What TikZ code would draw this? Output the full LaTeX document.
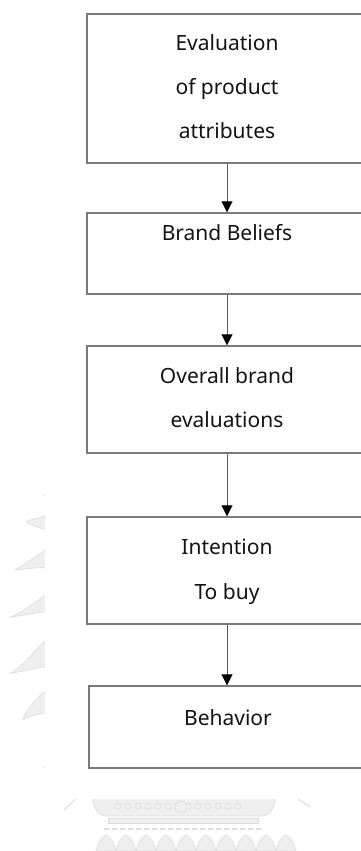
\documentclass[tikz,border=0pt]{standalone}
\usepackage{fontspec}
\setmainfont{Noto Sans}
\usetikzlibrary{arrows.meta}
\definecolor{boxgray}{HTML}{7A7A7A}
\definecolor{sealline}{HTML}{DCDCDC}
\definecolor{sealfill}{HTML}{EFEFEF}
\begin{document}
\begin{tikzpicture}[x=1pt,y=-1pt,
  stage/.style={draw=boxgray, line width=1.4pt, inner sep=0pt, minimum width=280pt},
  caption/.style={anchor=base, font=\fontsize{21}{25}\selectfont, text=black!92, inner sep=0pt},
  flow/.style={draw=black!65, line width=0.9pt, -{Triangle[width=11pt,length=11pt,color=black]}},
  seal/.style={draw=sealline, fill=sealfill, line width=0.6pt},
  sealstroke/.style={draw=sealline, line width=1pt}]
\useasboundingbox (0,0) rectangle (361,851);

% faint seal in the background
\foreach \tx/\ty/\ra/\rb in {28/523/513/530, 15/570/547/568, 10/617/592/612, 10/673/637/667, 23/720/687/713}{
  \path[seal] (50,\ra) .. controls (38,\ra+8) and (22,\ty-4) .. (\tx,\ty)
    .. controls (25,\ty-1) and (38,\rb-1) .. (50,\rb) -- cycle;
}
\path[seal] (45,495) circle (1.2);
\path[seal] (45,767) circle (1.2);
\draw[sealstroke] (64,810) -- (76,799);
\draw[sealstroke] (298,799) -- (310,807);
\path[seal] (92,797) .. controls (94,810) and (98,815) .. (106,816) -- (262,816)
  .. controls (270,815) and (274,810) .. (276,797) -- cycle;
\foreach \cx in {118,128,...,238}{ \draw[sealline, line width=0.6pt] (\cx,806) circle (3.2); }
\path[seal] (181,807) circle (6);
\path[seal] (108,818) rectangle (258,823);
\draw[sealline, line width=2pt, dash pattern=on 5pt off 3pt] (104,829) -- (264,829);
\foreach \px in {96,116,...,276}{
  \path[seal] (\px,851) .. controls (\px+2,840) and (\px+8,836) .. (\px+10,835)
    .. controls (\px+12,836) and (\px+18,840) .. (\px+20,851) -- cycle;
}
\fill[white] (45,-5) rectangle (370,799);

% process stages
\node[stage, minimum height=149pt] (attr) at (227,88.5) {};
\node[stage, minimum height=81pt]  (belief) at (227,253.5) {};
\node[stage, minimum height=107pt] (overall) at (227,399.5) {};
\node[stage, minimum height=107pt] (intent) at (227,570.5) {};
\node[stage, minimum height=82pt]  (behav) at (229,727) {};

% stage captions
\node[caption] (attrA) at (227,51) {Evaluation};
\node[caption] (attrB) at (227,95) {of product};
\node[caption] (attrC) at (227,138) {attributes};
\node[caption] (beliefA) at (227,240) {Brand Beliefs};
\node[caption] (overallA) at (227,383) {Overall brand};
\node[caption] (overallB) at (227,427) {evaluations};
\node[caption] (intentA) at (227,554) {Intention};
\node[caption] (intentB) at (227,599) {To buy};
\node[caption] (behavA) at (228,725) {Behavior};

% flow between stages
\draw[flow] (attr.south) -- (belief.north);
\draw[flow] (belief.south) -- (overall.north);
\draw[flow] (overall.south) -- (intent.north);
\draw[flow] (intent.south) -- (behav.north -| intent.south);
\end{tikzpicture}
\end{document}
